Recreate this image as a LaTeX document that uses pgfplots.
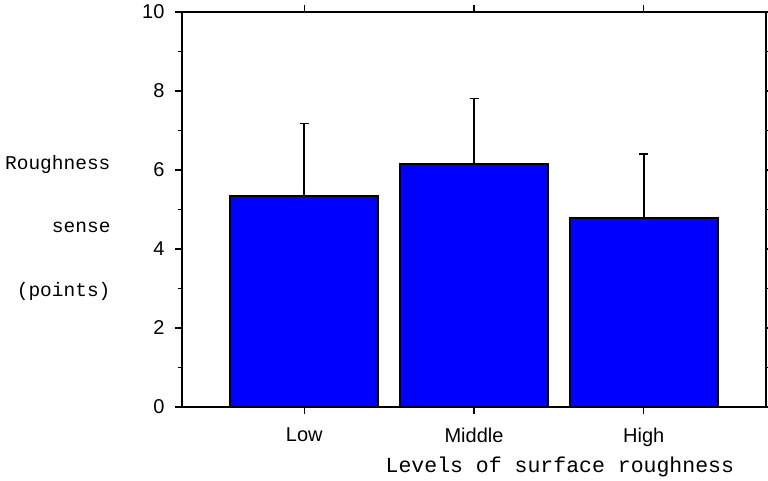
\documentclass[border=0pt]{standalone}
\usepackage{fontspec}
\setmainfont{Liberation Sans}
\newfontfamily\monofont{Liberation Mono}
\usepackage{pgfplots}
\pgfplotsset{compat=1.18}
\definecolor{barblue}{RGB}{0,0,255}

\begin{document}
\begin{tikzpicture}
% fix the page to the reference frame, 1px = 1pt
\path[use as bounding box] (-182pt,-73pt) rectangle (586pt,407pt);
\begin{axis}[
    at={(0,0)}, anchor=south west,
    scale only axis,
    width=584pt, height=395pt,
    xmin=0.28, xmax=3.72,
    ymin=0, ymax=10,
    xtick={1,2,3},
    xticklabels={Low,Middle,High},
    ytick={0,2,...,10},
    minor ytick={1,3,...,9},
    tick align=outside,
    major tick length=7pt,
    minor tick length=4pt,
    tick style={black, line width=1.3pt},
    axis line style={line width=1.6pt},
    ticklabel style={font=\fontsize{20}{23}\selectfont},
    /pgf/number format/assume math mode=true,
    yticklabel style={xshift=-7pt},
    xticklabel style={yshift=-10pt},
    xlabel={Levels of surface roughness},
    every axis x label/.style={at={(axis description cs:0.647,0)},
        anchor=center, yshift=-60pt, font=\monofont\fontsize{21.5}{24}\selectfont},
    ylabel={Roughness\\sense\\(points)},
    every axis y label/.style={at={(axis description cs:0,0.454)},
        anchor=east, xshift=-68pt, align=right,
        font=\monofont\fontsize{19.5}{63.5}\selectfont},
]
\addplot[ybar, bar width=148pt, fill=barblue, draw=black, line width=1.5pt,
    error bars/.cd, y dir=plus, y explicit,
    error mark options={rotate=90, mark size=4.5pt, line width=1.5pt, black},
    error bar style={line width=1.5pt, black}]
    coordinates {
    (1,5.34) +- (0,1.84)
    (2,6.15) +- (0,1.66)
    (3,4.79) +- (0,1.62)
};
\end{axis}
\end{tikzpicture}
\end{document}
